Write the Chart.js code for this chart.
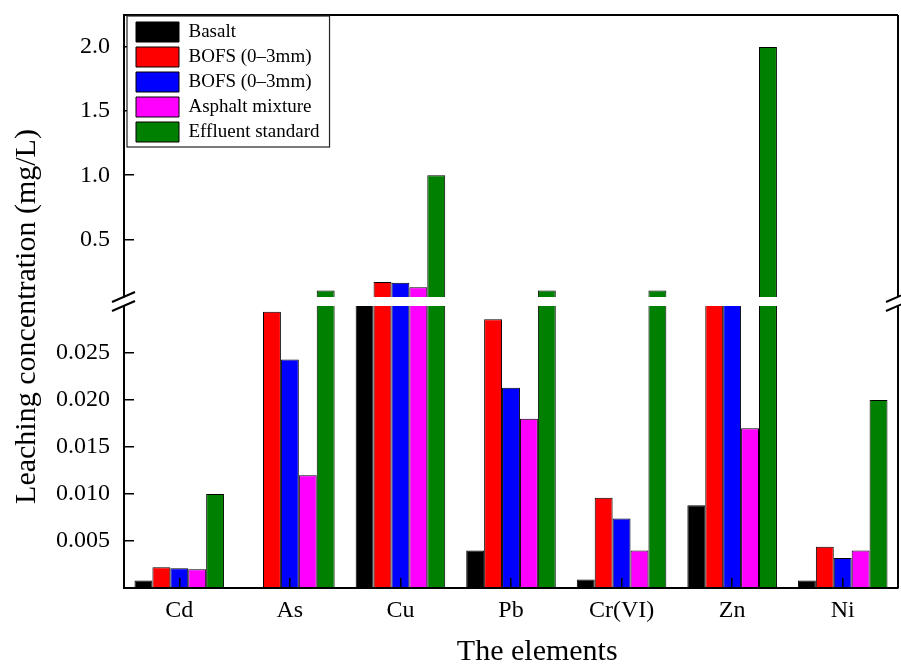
<!DOCTYPE html>
<html>
<head>
<meta charset="utf-8">
<title>Leaching concentration</title>
<script src="https://cdn.jsdelivr.net/npm/chart.js@4.4.0/dist/chart.umd.min.js"></script>
<style>
  html, body { margin: 0; padding: 0; background: #fff; }
  #wrap { width: 901px; height: 667px; }
</style>
</head>
<body>
<div id="wrap"><canvas id="leach-chart" width="901" height="667"></canvas></div>
<script>
// values (mg/L)
const elements = ['Cd', 'As', 'Cu', 'Pb', 'Cr(VI)', 'Zn', 'Ni'];
const basalt = [0.0008, 0, 0.04, 0.004, 0.0009, 0.0088, 0.0008];
const bofsRed = [0.0022, 0.0294, 0.167, 0.0286, 0.0096, 0.04, 0.0044];
const bofsBlue = [0.0021, 0.0243, 0.162, 0.0213, 0.0074, 0.04, 0.0032];
const asphalt = [0.0020, 0.012, 0.127, 0.018, 0.0040, 0.017, 0.0040];
const effluent = [0.01, 0.1, 1.0, 0.1, 0.1, 2.0, 0.02];

const lowerTicks = [0.005, 0.010, 0.015, 0.020, 0.025];
const upperTicks = [0.5, 1.0, 1.5, 2.0];

Chart.defaults.font.family = '"Liberation Serif", "Times New Roman", serif';
Chart.defaults.color = '#000';

const series = [
  { label: 'Basalt', data: basalt, color: '#000000' },
  { label: 'BOFS (0–3mm)', data: bofsRed, color: '#ff0000' },
  { label: 'BOFS (0–3mm)', data: bofsBlue, color: '#0000ff' },
  { label: 'Asphalt mixture', data: asphalt, color: '#ff00ff' },
  { label: 'Effluent standard', data: effluent, color: '#008000' }
];

// every series is drawn twice: once against the lower axis, once against the upper one
const datasets = [];
['y', 'y2'].forEach(function(axis) {
  series.forEach(function(s, i) {
    datasets.push({
      label: s.label,
      data: s.data,
      backgroundColor: s.color,
      borderColor: '#000',
      borderWidth: 1,
      borderSkipped: 'start',
      stack: 'slot' + i,
      yAxisID: axis
    });
  });
});

// keep each copy inside its own panel
const panelClip = {
  id: 'panelClip',
  beforeDatasetDraw(chart, args) {
    const ys = chart.scales[args.meta.yAxisID];
    const area = chart.chartArea;
    chart.ctx.save();
    chart.ctx.beginPath();
    chart.ctx.rect(area.left, ys.top, area.right - area.left, ys.bottom - ys.top);
    chart.ctx.clip();
  },
  afterDatasetDraw(chart) {
    chart.ctx.restore();
  }
};

// frame, axis break marks and the boxed legend
const frame = {
  id: 'frame',
  afterLayout(chart) {
    // nudge the legend into the upper left corner of the plot
    const lg = chart.legend;
    lg.left = chart.chartArea.left + 7;
    lg.top = chart.chartArea.top + 2;
    lg.right = lg.left + lg.width;
    lg.bottom = lg.top + lg.height;
  },
  afterDraw(chart) {
    const ctx = chart.ctx;
    const area = chart.chartArea;
    const lo = chart.scales.y;
    const hi = chart.scales.y2;
    ctx.save();
    ctx.strokeStyle = '#000';
    ctx.lineWidth = 2;
    ctx.beginPath();
    ctx.moveTo(area.left, hi.top);
    ctx.lineTo(area.right, hi.top);
    ctx.moveTo(area.right, hi.top);
    ctx.lineTo(area.right, hi.bottom);
    ctx.moveTo(area.right, lo.top);
    ctx.lineTo(area.right, lo.bottom);
    [area.left, area.right].forEach(function(x) {
      [hi.bottom, lo.top].forEach(function(y) {
        ctx.moveTo(x - 12, y + 5);
        ctx.lineTo(x + 11, y - 5);
      });
    });
    ctx.stroke();

    const boxes = chart.legend.legendHitBoxes;
    if (boxes && boxes.length) {
      let l = Infinity, t = Infinity, r = -Infinity, b = -Infinity;
      boxes.forEach(function(h) {
        l = Math.min(l, h.left);
        t = Math.min(t, h.top);
        r = Math.max(r, h.left + h.width);
        b = Math.max(b, h.top + h.height);
      });
      l -= 9; t -= 6; r += 10; b += 5;
      ctx.fillStyle = '#fff';
      ctx.fillRect(l, t, r - l, b - t);
      ctx.lineWidth = 1.2;
      ctx.strokeStyle = '#222';
      ctx.strokeRect(l, t, r - l, b - t);
    }
    ctx.restore();
    chart.legend.draw();
  }
};

const tickFont = { size: 24 };
const titleFont = { size: 30, lineHeight: 1 };
const sp = '\u00a0';

new Chart(document.getElementById('leach-chart').getContext('2d'), {
  type: 'bar',
  data: { labels: elements, datasets: datasets },
  options: {
    responsive: false,
    animation: false,
    categoryPercentage: 0.81,
    barPercentage: 1.0,
    layout: { padding: { left: 8, right: 3, top: 15, bottom: 0 } },
    plugins: {
      tooltip: { enabled: false },
      legend: {
        position: 'chartArea',
        align: 'start',
        labels: {
          boxWidth: 43,
          boxHeight: 20,
          padding: 5,
          color: '#000',
          font: { size: 19 },
          filter: function(item, data) {
            return data.datasets[item.datasetIndex].yAxisID === 'y';
          }
        }
      }
    },
    scales: {
      x: {
        type: 'category',
        position: 'bottom',
        grid: { offset: false, drawOnChartArea: false, tickLength: -10, color: '#000', lineWidth: 1.5, z: 1 },
        border: { display: true, color: '#000', width: 2, z: 1 },
        ticks: { font: tickFont, padding: 18, maxRotation: 0 },
        title: { display: true, text: sp.repeat(7) + 'The elements', font: titleFont, padding: { top: 0, bottom: 0 } },
        afterFit: function(s) { s.height = 79; }
      },
      y: {
        type: 'linear',
        position: 'left',
        stack: 'v',
        stackWeight: 282,
        min: 0,
        max: 0.03,
        grid: { drawOnChartArea: false, tickLength: -10, color: '#000', lineWidth: 1.5, z: 1 },
        border: { display: true, color: '#000', width: 2, z: 1 },
        ticks: { font: tickFont, padding: 24, callback: function(v) { return v.toFixed(3); } },
        afterBuildTicks: function(s) { s.ticks = lowerTicks.map(function(v) { return { value: v }; }); },
        afterFit: function(s) { s.width = 116; s.paddingTop = 0; s.paddingBottom = 0; }
      },
      gap: {
        type: 'linear',
        position: 'left',
        stack: 'v',
        stackWeight: 9,
        min: 0,
        max: 1,
        grid: { display: false },
        border: { display: false },
        ticks: { display: false },
        title: { display: true, text: 'Leaching concentration (mg/L)' + sp.repeat(4), font: titleFont, padding: { top: 4, bottom: 4 } },
        afterFit: function(s) { s.width = 116; s.paddingTop = 0; s.paddingBottom = 0; }
      },
      y2: {
        type: 'linear',
        position: 'left',
        stack: 'v',
        stackWeight: 282,
        min: 0.05,
        max: 2.25,
        grid: { drawOnChartArea: false, tickLength: -10, color: '#000', lineWidth: 1.5, z: 1 },
        border: { display: true, color: '#000', width: 2, z: 1 },
        ticks: { font: tickFont, padding: 24, callback: function(v) { return v.toFixed(1); } },
        afterBuildTicks: function(s) { s.ticks = upperTicks.map(function(v) { return { value: v }; }); },
        afterFit: function(s) { s.width = 116; s.paddingTop = 0; s.paddingBottom = 0; }
      }
    }
  },
  plugins: [panelClip, frame]
});
</script>
</body>
</html>
